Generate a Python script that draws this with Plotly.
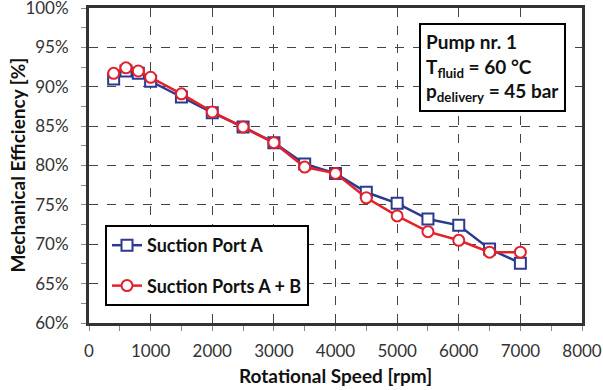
import plotly.graph_objects as go

speed = [400, 600, 800, 1000, 1500, 2000, 2500, 3000, 3500, 4000, 4500, 5000, 5500, 6000, 6500, 7000]
eff_port_a = [91.0, 92.0, 91.7, 90.7, 88.7, 86.7, 84.9, 82.9, 80.2, 79.0, 76.6, 75.2, 73.2, 72.4, 69.4, 67.6]
eff_ports_ab = [91.7, 92.4, 92.0, 91.2, 89.1, 86.8, 84.9, 82.9, 79.8, 79.0, 75.9, 73.6, 71.6, 70.5, 69.0, 69.0]

y_ticks = [60, 65, 70, 75, 80, 85, 90, 95, 100]
y_tick_labels = [f"{v}%" for v in y_ticks]
x_ticks = [0, 1000, 2000, 3000, 4000, 5000, 6000, 7000, 8000]

FONT = "Lato, 'Open Sans', sans-serif"
BLUE = "#2B3990"
RED = "#E3202B"

W, H = 603, 390
ML, MR, MT, MB = 89, 21, 8, 67
PW, PH = W - ML - MR, H - MT - MB

fig = go.Figure()
fig.add_trace(go.Scatter(
    x=speed, y=eff_port_a, mode="lines+markers", name="Suction Port A",
    legendgroup="a",
    line=dict(color=BLUE, width=2.5),
    marker=dict(symbol="square", size=11, color="white", line=dict(color=BLUE, width=2)),
))
fig.add_trace(go.Scatter(
    x=speed, y=eff_ports_ab, mode="lines+markers", name="Suction Ports A + B",
    legendgroup="b",
    line=dict(color=RED, width=2.5),
    marker=dict(symbol="circle", size=11, color="white", line=dict(color=RED, width=2)),
))

fig.update_layout(
    width=W, height=H,
    margin=dict(l=ML, r=MR, t=MT, b=MB, autoexpand=False),
    paper_bgcolor="white", plot_bgcolor="white",
    font=dict(family=FONT, size=17, color="#222"),
    showlegend=True,
    legend=dict(
        x=(105 - ML) / PW, y=(H - MB - 225) / PH, xanchor="left", yanchor="top",
        bordercolor="black", borderwidth=2, bgcolor="white",
        font=dict(family=FONT, size=18, color="#111", weight="bold"),
        tracegroupgap=14, itemwidth=30,
    ),
    xaxis=dict(
        range=[0, 8000], tickvals=x_ticks, automargin=False,
        showgrid=True, gridcolor="#444", griddash="dash", gridwidth=1,
        showline=True, linecolor="#333", linewidth=3, mirror=True,
        ticks="outside", ticklen=5, tickcolor="#888",
        minor=dict(dtick=500, ticks="outside", ticklen=5, tickcolor="#888", showgrid=False),
        zeroline=False,
        tickfont=dict(size=17, color="#333"),
        ticklabelstandoff=6, ticklabeloverflow="allow",
    ),
    yaxis=dict(
        range=[60, 100], tickvals=y_ticks, ticktext=y_tick_labels, automargin=False,
        showgrid=True, gridcolor="#444", griddash="dash", gridwidth=1,
        showline=True, linecolor="#333", linewidth=3, mirror=True,
        ticks="outside", ticklen=5, tickcolor="#888",
        minor=dict(dtick=2.5, ticks="outside", ticklen=5, tickcolor="#888", showgrid=False),
        zeroline=False,
        tickfont=dict(size=17, color="#333"),
        ticklabelstandoff=9, ticklabeloverflow="allow",
    ),
)
fig.add_annotation(
    x=(419 - ML) / PW, y=(H - MB - 23) / PH, xref="paper", yref="paper",
    xanchor="left", yanchor="top",
    text="<b>Pump nr. 1<br>T<sub>fluid</sub> = 60 °C<br>p<sub>delivery</sub> = 45 bar</b>",
    align="left", showarrow=False,
    font=dict(family=FONT, size=19, color="#111"),
    bordercolor="black", borderwidth=2, bgcolor="white", borderpad=5,
)
fig.add_annotation(
    x=0.5, y=(H - MB - 375) / PH, xref="paper", yref="paper", yanchor="middle",
    text="<b>Rotational Speed [rpm]</b>", showarrow=False,
    font=dict(family=FONT, size=19, color="#111"),
)
fig.add_annotation(
    x=(17 - ML) / PW, y=0.5, xref="paper", yref="paper",
    xanchor="center", yanchor="middle", textangle=-90,
    text="<b>Mechanical Efficiency [%]</b>", showarrow=False,
    font=dict(family=FONT, size=19, color="#111"),
)

fig.write_html(
    "out.html",
    config={"displayModeBar": False},
    post_script="document.body.style.margin='0';",
)
